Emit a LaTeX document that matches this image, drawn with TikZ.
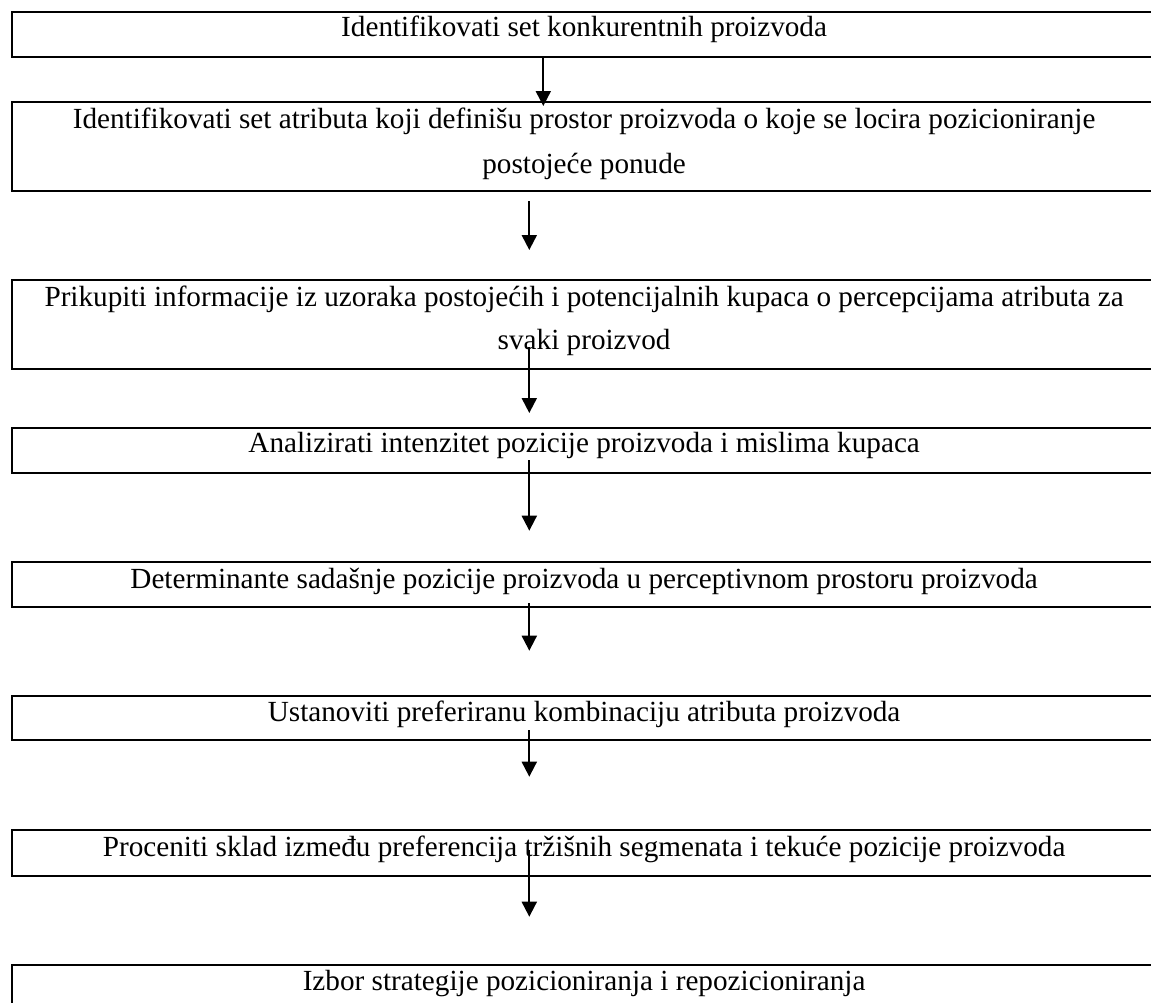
\documentclass[tikz,border=0pt]{standalone}
\usepackage{fontspec}
\setmainfont{Liberation Serif}
\usetikzlibrary{arrows.meta}
\begin{document}
\begin{tikzpicture}[x=0.5pt,y=-0.5pt,
  stage/.style={draw, line width=0.9pt, rectangle, minimum width=573.4pt,
                inner sep=0pt, anchor=north west},
  lbl/.style={anchor=base, inner sep=0pt, font=\fontsize{14.6}{17}\selectfont},
  flow/.style={line width=1pt, -{Triangle[length=7.5pt,width=7.5pt]}}]
\useasboundingbox (0,0) rectangle (1151,1002);
\clip (0,0) rectangle (1151,1002);

% process stages
\node[stage, minimum height=22.35pt] (b1) at (10.7,11)    {};
\node[stage, minimum height=44.5pt]  (b2) at (10.7,101)   {};
\node[stage, minimum height=44.35pt] (b3) at (10.7,279)   {};
\node[stage, minimum height=22.5pt]  (b4) at (10.7,426.7) {};
\node[stage, minimum height=22.35pt] (b5) at (10.7,561)   {};
\node[stage, minimum height=22.15pt] (b6) at (10.7,695)   {};
\node[stage, minimum height=23pt]    (b7) at (10.7,829)   {};
\node[stage, minimum height=22.5pt]  (b8) at (10.7,964)   {};

% stage texts
\node[lbl] (t1)  at (584.1,36.8)  {Identifikovati set konkurentnih proizvoda};
\node[lbl] (t2a) at (584.1,128.3) {Identifikovati set atributa koji definišu prostor proizvoda o koje se locira pozicioniranje};
\node[lbl] (t2b) at (584.1,173.3) {postojeće ponude};
\node[lbl] (t3a) at (584.1,306.7) {Prikupiti informacije iz uzoraka postojećih i potencijalnih kupaca o percepcijama atributa za};
\node[lbl] (t3b) at (584.1,349.3) {svaki proizvod};
\node[lbl] (t4)  at (584.1,452.3) {Analizirati intenzitet pozicije proizvoda i mislima kupaca};
\node[lbl] (t5)  at (584.1,588.3) {Determinante sadašnje pozicije proizvoda u perceptivnom prostoru proizvoda};
\node[lbl] (t6)  at (584.1,721.7) {Ustanoviti preferiranu kombinaciju atributa proizvoda};
\node[lbl] (t7)  at (584.1,856.7) {Proceniti sklad između preferencija tržišnih segmenata i tekuće pozicije proizvoda};
\node[lbl] (t8)  at (584.1,990)   {Izbor strategije pozicioniranja i repozicioniranja};

% arrow ends
\coordinate (a1s) at (543.3,58);   \coordinate (a1e) at (543.3,106);
\coordinate (a2s) at (529.3,201);  \coordinate (a2e) at (529.3,250);
\coordinate (a3s) at (529.3,347);  \coordinate (a3e) at (529.3,413);
\coordinate (a4s) at (529.3,460);  \coordinate (a4e) at (529.3,530.7);
\coordinate (a5s) at (529.3,603);  \coordinate (a5e) at (529.3,650.7);
\coordinate (a6s) at (529.3,730);  \coordinate (a6e) at (529.3,776.7);
\coordinate (a7s) at (529.3,850);  \coordinate (a7e) at (529.3,916.7);

% connectors
\draw[flow] (a1s) -- (a1e);
\draw[flow] (a2s) -- (a2e);
\draw[flow] (a3s) -- (a3e);
\draw[flow] (a4s) -- (a4e);
\draw[flow] (a5s) -- (a5e);
\draw[flow] (a6s) -- (a6e);
\draw[flow] (a7s) -- (a7e);
\end{tikzpicture}
\end{document}
